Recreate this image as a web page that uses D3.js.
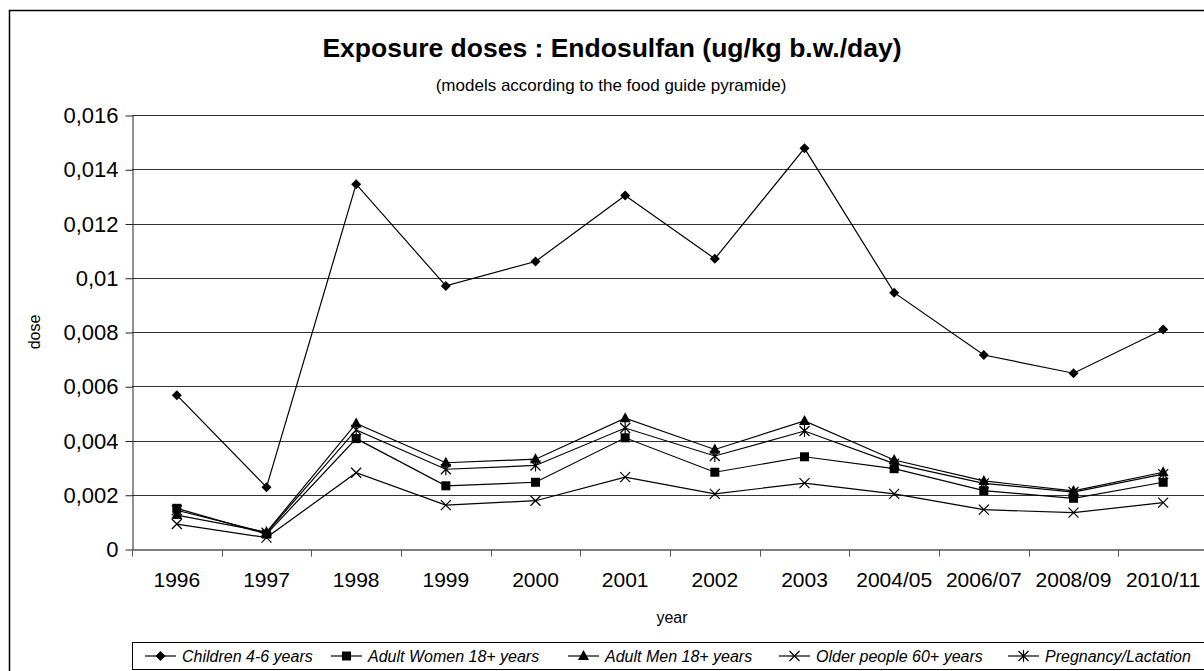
<!doctype html>
<html>

<head>
    <meta charset="utf-8">
    <title>Endosulfan</title>
    <style>
    body {
        margin: 0;
        background: #fff;
    }

    svg {
        display: block;
        font-family: Arial, "Liberation Sans", sans-serif;
    }

    .grid line {
        stroke: #333;
        stroke-width: 1px;
    }

    .series {
        fill: none;
        stroke: #000;
        stroke-width: 1.2px;
    }
    </style>
</head>

<body>
    <svg width="1204" height="671"></svg>
    <script src="https://cdn.jsdelivr.net/npm/d3@7"></script>
    <script>
    var years = ["1996", "1997", "1998", "1999", "2000", "2001", "2002", "2003", "2004/05", "2006/07", "2008/09", "2010/11"];
    var children = [0.00567, 0.00228, 0.01345, 0.0097, 0.0106, 0.01303, 0.0107, 0.01477, 0.00945, 0.00715, 0.00648, 0.00809];
    var women = [0.0015, 0.00055, 0.00407, 0.00233, 0.00246, 0.0041, 0.00283, 0.0034, 0.00296, 0.00215, 0.00187, 0.00246];
    var men = [0.00125, 0.00062, 0.00463, 0.00318, 0.00331, 0.00482, 0.00367, 0.00472, 0.00328, 0.00251, 0.00214, 0.00283];
    var older = [0.00092, 0.00042, 0.00281, 0.00162, 0.00178, 0.00265, 0.00203, 0.00243, 0.00203, 0.00145, 0.00134, 0.00171];
    var pregnancy = [0.00143, 0.0006, 0.00439, 0.00294, 0.00308, 0.00446, 0.00343, 0.00435, 0.00315, 0.00242, 0.0021, 0.00276];
    var yTicks = [0, 0.002, 0.004, 0.006, 0.008, 0.01, 0.012, 0.014, 0.016];

    (function() {
        var series = [
            { name: "Children 4-6 years", values: children, marker: "diamond", lx: 145 },
            { name: "Adult Women 18+ years", values: women, marker: "square", lx: 331 },
            { name: "Adult Men 18+ years", values: men, marker: "triangle", lx: 568 },
            { name: "Older people 60+ years", values: older, marker: "cross", lx: 779 },
            { name: "Pregnancy/Lactation", values: pregnancy, marker: "star", lx: 1008 }
        ];

        var svg = d3.select("svg"),
            pLeft = 132, pRight = 1208, pTop = 115, pBottom = 549;

        // outer chart border (clipped by the window on right/bottom)
        svg.append("rect")
            .attr("x", 9.5).attr("y", 10.5)
            .attr("width", 1210).attr("height", 680)
            .attr("fill", "none").attr("stroke", "#000").attr("stroke-width", 1.5);

        var x = d3.scaleBand().domain(years).range([pLeft, pRight]);
        var y = d3.scaleLinear().domain([0, 0.016]).range([pBottom, pTop]);
        var cx = function(i) { return x(years[i]) + x.bandwidth() / 2; };

        var fmt = function(d) { return d === 0 ? "0" : String(+d.toFixed(3)).replace(".", ","); };

        // gridlines
        svg.append("g").attr("class", "grid")
            .selectAll("line").data(yTicks.slice(1)).enter().append("line")
            .attr("x1", pLeft).attr("x2", pRight)
            .attr("y1", function(d) { return Math.round(y(d)) + 0.5; })
            .attr("y2", function(d) { return Math.round(y(d)) + 0.5; });

        // y axis
        var yAxis = svg.append("g")
            .attr("transform", "translate(" + (pLeft + 0.5) + ",0.5)")
            .call(d3.axisLeft(y).tickValues(yTicks).tickSize(7).tickSizeOuter(0).tickPadding(7).tickFormat(fmt));
        yAxis.selectAll("text").attr("font-size", 22).attr("fill", "#000").attr("font-family", "Arial, 'Liberation Sans', sans-serif");
        yAxis.selectAll("line, path").attr("stroke", "#222");

        // x axis (ticks between categories, labels centred)
        var xAxis = svg.append("g")
            .attr("transform", "translate(0," + (pBottom + 0.5) + ")")
            .call(d3.axisBottom(x).tickSize(0).tickSizeOuter(0).tickPadding(23));
        xAxis.selectAll("text").attr("font-size", 21).attr("fill", "#000").attr("font-family", "Arial, 'Liberation Sans', sans-serif");
        xAxis.select("path").attr("stroke", "#555").attr("stroke-width", 1.5);
        xAxis.selectAll(".divider").data(years).enter().append("line")
            .attr("class", "divider")
            .attr("x1", function(d) { return Math.round(x(d)) + 0.5; })
            .attr("x2", function(d) { return Math.round(x(d)) + 0.5; })
            .attr("y1", 0).attr("y2", 7)
            .attr("stroke", "#555");

        // titles
        svg.append("text").attr("x", 612).attr("y", 57).attr("text-anchor", "middle")
            .attr("font-size", 26.5).attr("font-weight", "bold").text("Exposure doses : Endosulfan (ug/kg b.w./day)");
        svg.append("text").attr("x", 611).attr("y", 91).attr("text-anchor", "middle")
            .attr("font-size", 17).text("(models according to the food guide pyramide)");
        svg.append("text").attr("x", 672).attr("y", 623).attr("text-anchor", "middle")
            .attr("font-size", 16).text("year");
        svg.append("text").attr("transform", "translate(40,332) rotate(-90)").attr("text-anchor", "middle")
            .attr("font-size", 16).text("dose");

        function drawMarker(g, type, px, py) {
            if (type === "diamond") {
                g.append("path").attr("d", "M" + px + "," + (py - 5) + "L" + (px + 5) + "," + py + "L" + px + "," + (py + 5) + "L" + (px - 5) + "," + py + "Z")
                    .attr("fill", "#000");
            } else if (type === "square") {
                g.append("rect").attr("x", px - 4.5).attr("y", py - 4.5).attr("width", 9).attr("height", 9).attr("fill", "#000");
            } else if (type === "triangle") {
                g.append("path").attr("d", "M" + px + "," + (py - 6) + "L" + (px + 5.5) + "," + (py + 4) + "L" + (px - 5.5) + "," + (py + 4) + "Z")
                    .attr("fill", "#000");
            } else if (type === "cross") {
                g.append("path").attr("d", "M" + (px - 5) + "," + (py - 5) + "L" + (px + 5) + "," + (py + 5) + "M" + (px + 5) + "," + (py - 5) + "L" + (px - 5) + "," + (py + 5))
                    .attr("stroke", "#000").attr("stroke-width", 1.2).attr("fill", "none");
            } else {
                g.append("path").attr("d", "M" + (px - 5) + "," + (py - 5) + "L" + (px + 5) + "," + (py + 5) + "M" + (px + 5) + "," + (py - 5) + "L" + (px - 5) + "," + (py + 5) + "M" + px + "," + (py - 6) + "L" + px + "," + (py + 6))
                    .attr("stroke", "#000").attr("stroke-width", 1.2).attr("fill", "none");
            }
        }

        var line = d3.line()
            .x(function(d, i) { return cx(i); })
            .y(function(d) { return y(d); });

        series.forEach(function(s) {
            var g = svg.append("g");
            g.append("path").attr("class", "series").attr("d", line(s.values));
            s.values.forEach(function(v, i) { drawMarker(g, s.marker, cx(i), y(v)); });
        });

        // legend
        svg.append("rect")
            .attr("x", 132.5).attr("y", 642.5).attr("width", 1100).attr("height", 27)
            .attr("fill", "#fff").attr("stroke", "#000").attr("stroke-width", 1);

        series.forEach(function(s) {
            var g = svg.append("g");
            g.append("line").attr("x1", s.lx).attr("x2", s.lx + 31).attr("y1", 656).attr("y2", 656)
                .attr("stroke", "#000").attr("stroke-width", 1.2);
            drawMarker(g, s.marker, s.lx + 15.5, 656);
            g.append("text").attr("x", s.lx + 37).attr("y", 662)
                .attr("font-size", 16).attr("font-style", "italic").text(s.name);
        });
    })();
    </script>
</body>

</html>
